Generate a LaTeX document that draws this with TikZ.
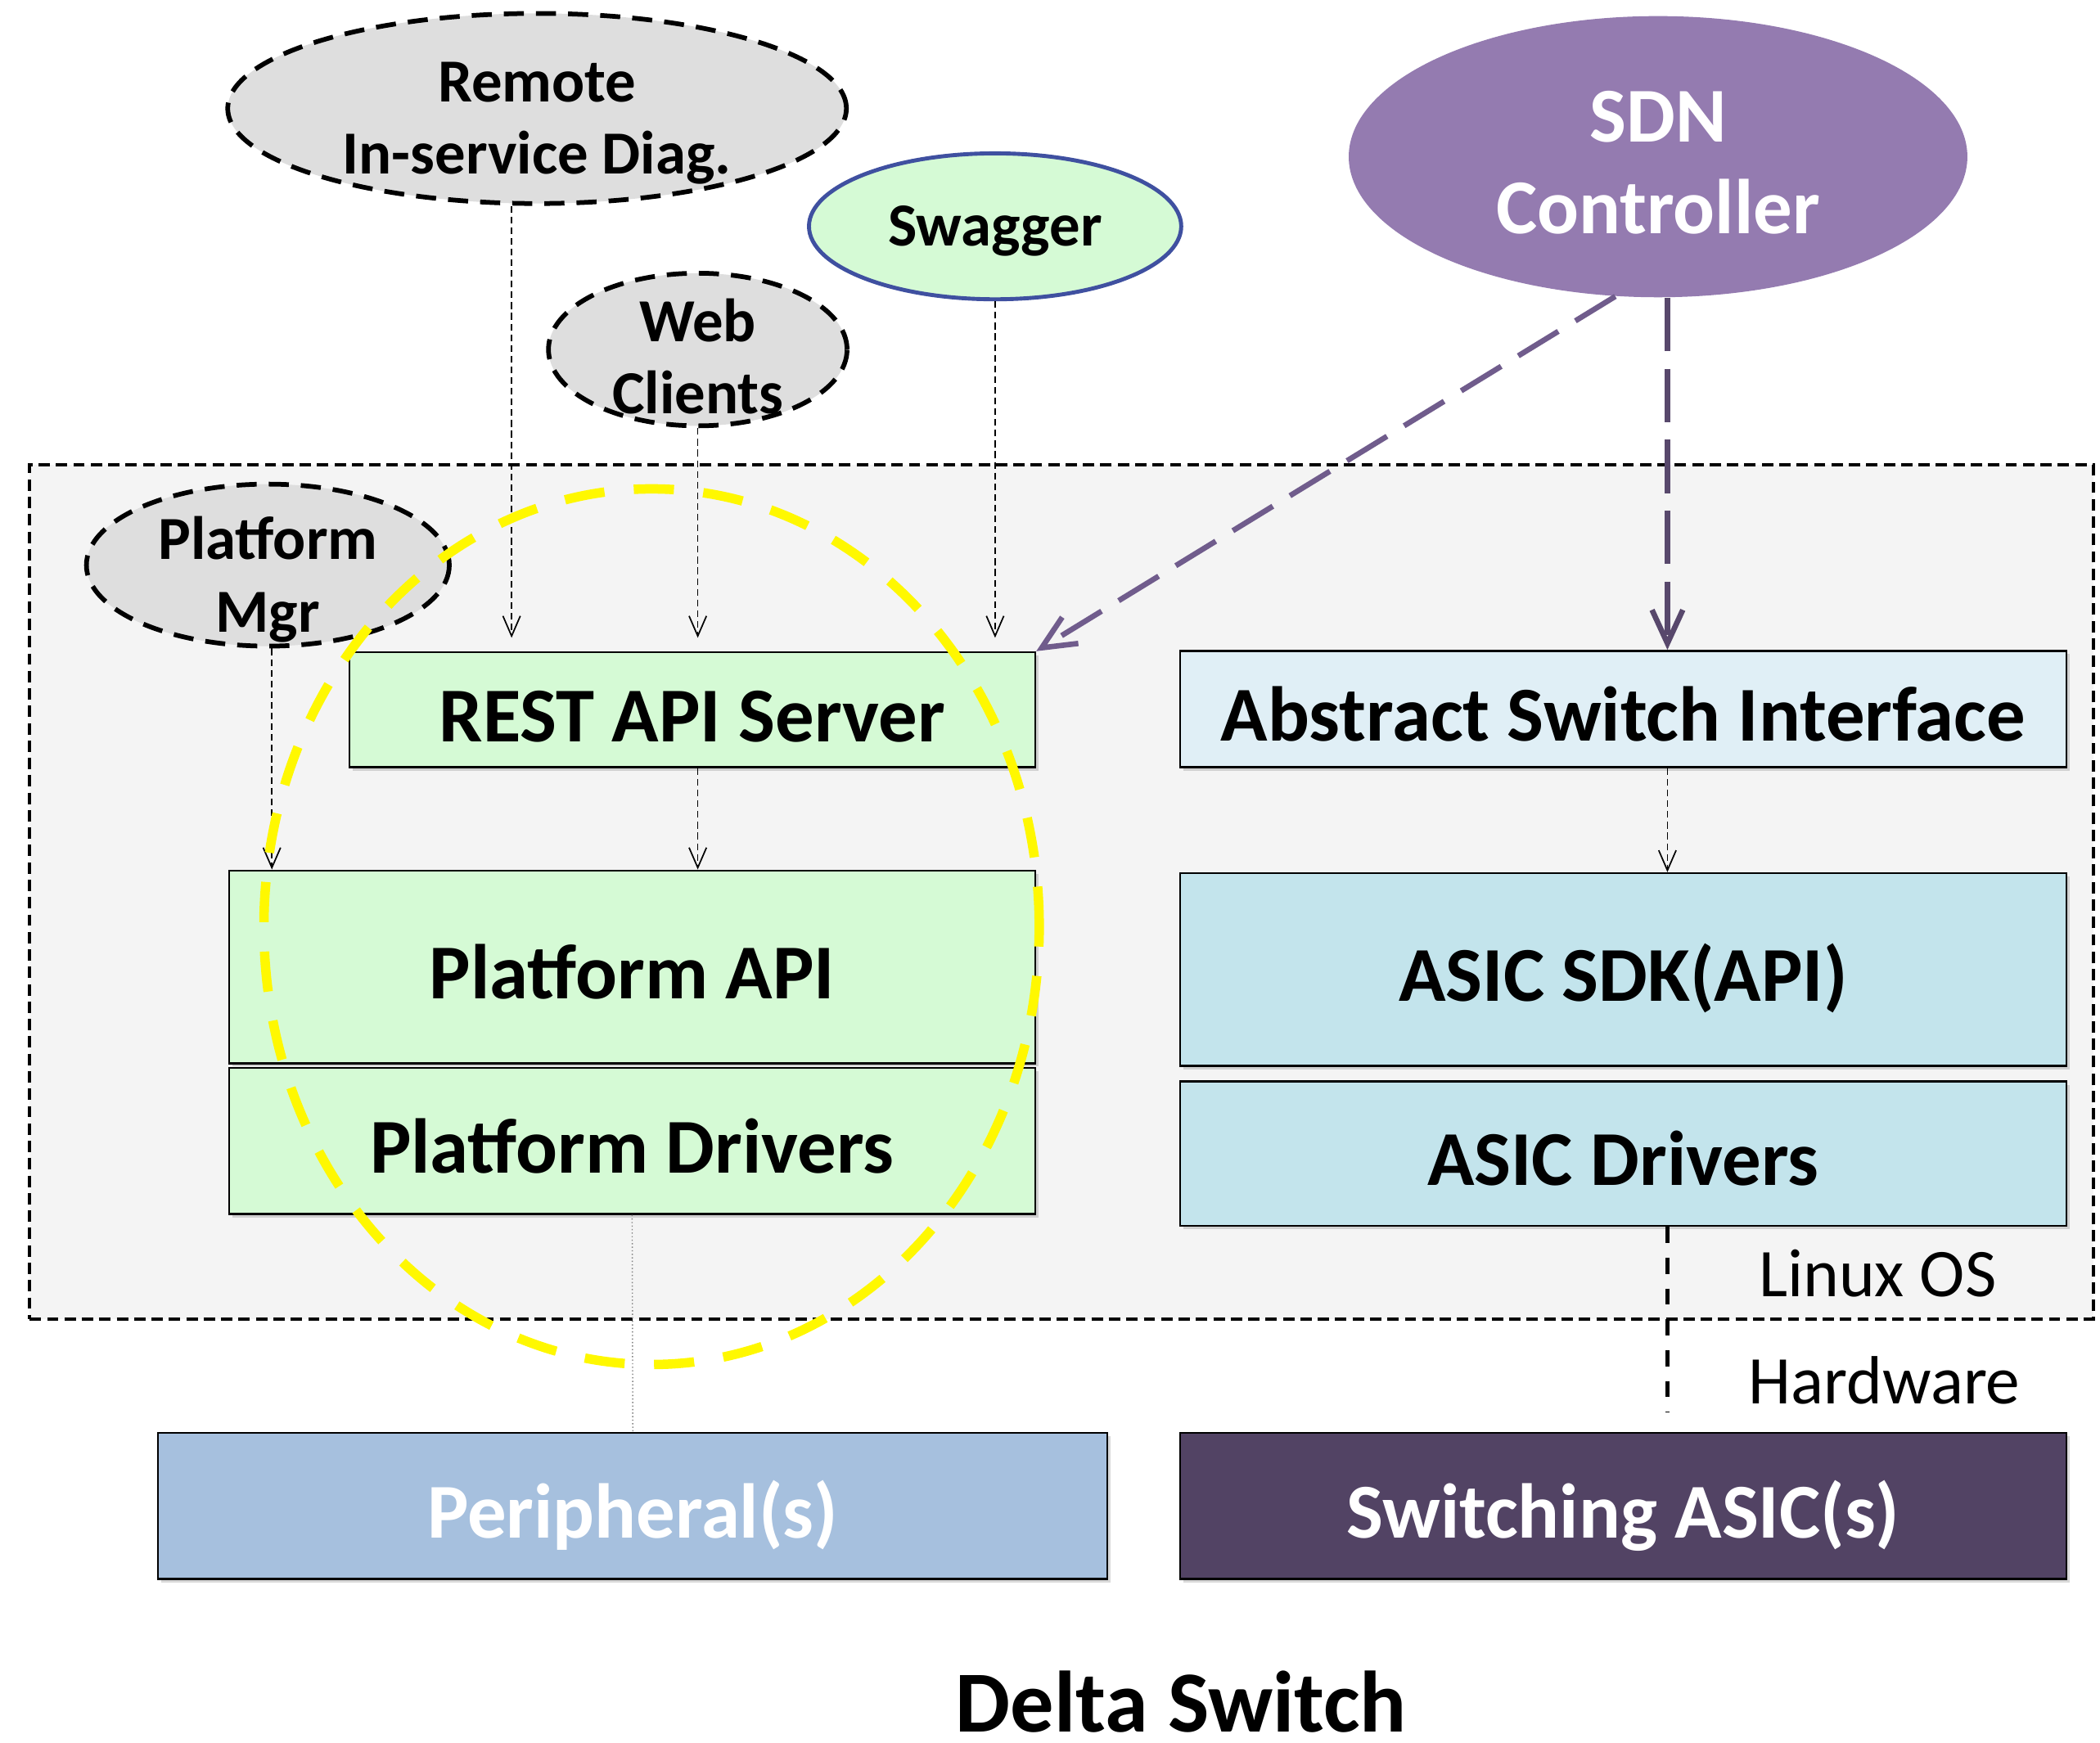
\documentclass[tikz,border=0pt]{standalone}
\usepackage{fontspec}
\setmainfont{Carlito}
\usetikzlibrary{positioning,shapes.geometric,arrows.meta,shadows}

\definecolor{boxgreen}{RGB}{213,250,213}
\definecolor{asiblue}{RGB}{224,239,246}
\definecolor{sdkblue}{RGB}{195,228,236}
\definecolor{periblue}{RGB}{166,192,222}
\definecolor{asicpurple}{RGB}{82,67,100}
\definecolor{ctrlpurple}{RGB}{148,123,176}
\definecolor{ellgray}{RGB}{222,222,222}
\definecolor{osgray}{RGB}{244,244,244}
\definecolor{swagblue}{RGB}{63,80,160}
\definecolor{diagpurple}{RGB}{112,92,140}
\definecolor{vertpurple}{RGB}{88,72,108}
\definecolor{halo}{RGB}{255,248,0}

\newcommand{\lift}[1]{\rule{0pt}{#1}}

\tikzset{
  osbox/.style={draw=black, fill=osgray, line width=1.4pt, dash pattern=on 0.17cm off 0.09cm, inner sep=0pt},
  layer/.style={draw=black, line width=0.85pt, inner sep=0pt, text height=1.1cm, text depth=0.15cm,
    font=\fontsize{33}{39}\selectfont\bfseries,
    drop shadow={shadow xshift=0.05cm, shadow yshift=-0.05cm, opacity=0.3}},
  bubble/.style={ellipse, draw=black, fill=ellgray, line width=2pt, dash pattern=on 0.3cm off 0.18cm,
    inner sep=-0.4cm, align=center, font=\fontsize{26}{30.7}\selectfont\bfseries},
  swag/.style={ellipse, draw=swagblue, fill=boxgreen, line width=1.7pt, inner sep=-0.3cm,
    text height=0.75cm, text depth=0.16cm, font=\fontsize{26}{30.7}\selectfont\bfseries},
  ctrl/.style={ellipse, fill=ctrlpurple, text=white, inner sep=-0.4cm, align=center,
    font=\fontsize{33}{39}\selectfont\bfseries},
  note/.style={font=\fontsize{29}{34}\selectfont, inner sep=0pt},
  headline/.style={font=\fontsize{37}{44}\selectfont\bfseries, inner sep=0pt},
  thinarr/.style={line width=0.6pt, dash pattern=on 0.1cm off 0.06cm, -{Straight Barb[length=0.3cm, width=0.26cm]}},
  sdnarr/.style={line width=2.3pt, dash pattern=on 0.7cm off 0.3cm, -{Straight Barb[length=0.5cm, width=0.46cm]}},
  halostyle/.style={draw=halo, line width=4pt, dash pattern=on 0.6cm off 0.44cm}
}

\begin{document}
\begin{tikzpicture}[x=0.02cm, y=-0.02cm]
\useasboundingbox (0,0) rectangle (1568,1301);
\node[style=osbox, minimum width=30.82cm, minimum height=12.76cm] (os) at (792.5,666) {};
\node[style=bubble, minimum width=9.24cm, minimum height=2.84cm] (remote) at (401,81) {\lift{1.03cm}Remote\\In-service Diag.};
\node[style=swag, minimum width=5.56cm, minimum height=2.18cm] (swagger) at (743,169) {Swagger};
\node[style=bubble, minimum width=4.46cm, minimum height=2.28cm] (web) at (521,261) {\lift{0.84cm}Web\\Clients};
\node[style=ctrl, minimum width=9.24cm, minimum height=4.2cm] (sdn) at (1238,117) {\lift{0.94cm}SDN\\Controller};
\node[style=bubble, minimum width=5.42cm, minimum height=2.42cm] (pmgr) at (200,422) {\lift{1.07cm}Platform\\Mgr};
\node[style=layer, fill=boxgreen, minimum width=10.24cm, minimum height=1.72cm] (rest) at (517,530) {REST API Server};
\node[style=layer, fill=boxgreen, minimum width=12.04cm, minimum height=2.88cm] (papi) at (472,722) {Platform API};
\node[style=layer, fill=boxgreen, minimum width=12.04cm, minimum height=2.18cm, below=0.04cm of papi] (pdrv) {Platform Drivers};
\node[style=layer, fill=asiblue, minimum width=13.24cm, minimum height=1.74cm] (asi) at (1212,529.5) {Abstract Switch Interface};
\node[style=layer, fill=sdkblue, minimum width=13.24cm, minimum height=2.88cm] (sdk) at (1212,724) {ASIC SDK(API)};
\node[style=layer, fill=sdkblue, minimum width=13.24cm, minimum height=2.16cm, below=0.2cm of sdk] (adrv) {ASIC Drivers};
\node[style=layer, fill=periblue, text=white, minimum width=14.18cm, minimum height=2.18cm] (periph) at (472.5,1124.5) {Peripheral(s)};
\node[style=layer, fill=asicpurple, text=white, minimum width=13.24cm, minimum height=2.18cm] (swasic) at (1212,1124.5) {Switching ASIC(s)};
\node[style=note] (linux) at (1402,951) {Linux OS};
\node[style=note] (hw) at (1407,1031) {Hardware};
\node[style=headline] (delta) at (882,1271) {Delta Switch};
\draw[thinarr, shorten >=0.2cm] ([xshift=-0.38cm]remote.south) -- ([xshift=-0.38cm]remote.south |- rest.north);
\draw[thinarr, shorten >=0.2cm] (web.south) -- (web.south |- rest.north);
\draw[thinarr, shorten >=0.2cm] (swagger.south) -- (swagger.south |- rest.north);
\draw[thinarr] ([xshift=0.06cm]pmgr.south) -- ([xshift=0.06cm]pmgr.south |- papi.north);
\draw[thinarr] (rest.south -| web.south) -- (papi.north -| web.south);
\draw[sdnarr, draw=diagpurple] (sdn.253) -- (rest.north east);
\draw[sdnarr, draw=vertpurple, dash pattern=on 0.8cm off 0.26cm] ([xshift=0.14cm]sdn.south) -- ([xshift=0.14cm]sdn.south |- asi.north);
\draw[thinarr] ([xshift=0.66cm]asi.south) -- ([xshift=0.66cm]sdk.north);
\draw[line width=0.5pt, draw=gray, densely dotted] (pdrv.south) -- (periph.north);
\draw[line width=1.5pt, dash pattern=on 0.24cm off 0.22cm] ([xshift=0.66cm]adrv.south) -- ([xshift=0.66cm, yshift=0.3cm]swasic.north);
\draw[style=halostyle] (486.5,692) ellipse [x radius=5.79cm, y radius=6.54cm];
\end{tikzpicture}
\end{document}
